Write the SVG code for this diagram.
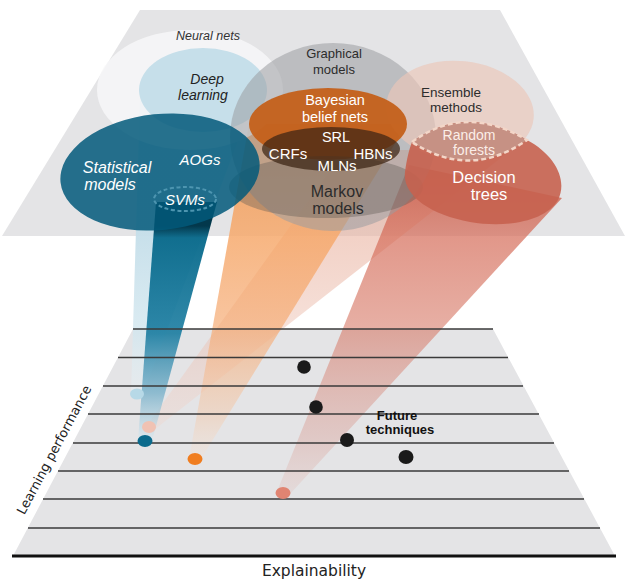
<svg xmlns="http://www.w3.org/2000/svg" width="628" height="582" viewBox="0 0 628 582">
<style>
.t{font-family:"Liberation Sans",Arial,sans-serif;text-anchor:middle}
.it{font-style:italic}
.dk{fill:#2c2c2c}
.wh{fill:#ffffff}
.grid{stroke:#3a3a3a;stroke-width:1.5}
.dot{fill:#1a1a1a}
</style>
<defs>
<linearGradient id="gBlue" gradientUnits="userSpaceOnUse" x1="0" y1="98" x2="0" y2="394">
<stop offset="0" stop-color="#c6dfea" stop-opacity="1"/>
<stop offset="0.48" stop-color="#c6dfea" stop-opacity="0.95"/>
<stop offset="0.8" stop-color="#d3e7ef" stop-opacity="0.8"/>
<stop offset="1" stop-color="#e8f2f6" stop-opacity="0.4"/>
</linearGradient>
<linearGradient id="gTeal" gradientUnits="userSpaceOnUse" x1="0" y1="202" x2="0" y2="441">
<stop offset="0" stop-color="#03384c"/>
<stop offset="0.1" stop-color="#03384c"/>
<stop offset="0.15" stop-color="#0b6b8c" stop-opacity="0.97"/>
<stop offset="0.55" stop-color="#1a7ca0" stop-opacity="0.9"/>
<stop offset="0.8" stop-color="#6aaac6" stop-opacity="0.7"/>
<stop offset="1" stop-color="#d8eaf2" stop-opacity="0.45"/>
</linearGradient>
<linearGradient id="gOrange" gradientUnits="userSpaceOnUse" x1="0" y1="124" x2="0" y2="459">
<stop offset="0" stop-color="#f09a55" stop-opacity="0.9"/>
<stop offset="0.33" stop-color="#f6a96c" stop-opacity="0.85"/>
<stop offset="0.62" stop-color="#f5ad78" stop-opacity="0.7"/>
<stop offset="0.88" stop-color="#f6c6a2" stop-opacity="0.4"/>
<stop offset="1" stop-color="#fbe0cc" stop-opacity="0.2"/>
</linearGradient>
<linearGradient id="gPink" gradientUnits="userSpaceOnUse" x1="0" y1="150" x2="0" y2="430">
<stop offset="0" stop-color="#eab5a3" stop-opacity="0.7"/>
<stop offset="0.3" stop-color="#eab5a3" stop-opacity="0.62"/>
<stop offset="0.65" stop-color="#ebbcac" stop-opacity="0.45"/>
<stop offset="1" stop-color="#f3d3c8" stop-opacity="0.3"/>
</linearGradient>
<linearGradient id="gSalmon" gradientUnits="userSpaceOnUse" x1="0" y1="165" x2="0" y2="494">
<stop offset="0" stop-color="#c8604f" stop-opacity="0.9"/>
<stop offset="0.22" stop-color="#d66f5c" stop-opacity="0.72"/>
<stop offset="0.5" stop-color="#d77a68" stop-opacity="0.6"/>
<stop offset="0.83" stop-color="#d8958a" stop-opacity="0.35"/>
<stop offset="1" stop-color="#e0b0a8" stop-opacity="0.2"/>
</linearGradient>
</defs>

<!-- planes -->
<polygon id="top-plane" points="140,10 500,10 625,236 2,236" fill="#e4e4e6"/>
<polygon id="bottom-plane" points="133,329 493,329 615,556 13,556" fill="#e4e4e6"/>

<!-- connectors (beams) -->
<g id="connectors">
<polygon id="beam-deep" points="140,98 245,122 143,394 131,394" fill="url(#gBlue)"/>
<polygon id="beam-ensemble" points="345,150 511,150 154,430 145,428" fill="url(#gPink)"/>
<polygon id="beam-graphical" points="249,124 407,124 201,459 189,459" fill="url(#gOrange)"/>
<polygon id="beam-decision" points="409,165 562,198 290,494 276,494" fill="url(#gSalmon)"/>
<polygon id="beam-svm" points="156,202 217,202 152,441 138,441" fill="url(#gTeal)"/>
</g>

<!-- grid lines of the lower plane -->
<g id="grid">
<line class="grid" x1="133" y1="329" x2="493" y2="329"/>
<line class="grid" x1="118" y1="357.5" x2="508" y2="357.5"/>
<line class="grid" x1="103" y1="386" x2="523" y2="386"/>
<line class="grid" x1="88" y1="414" x2="539" y2="414"/>
<line class="grid" x1="73" y1="443" x2="554" y2="443"/>
<line class="grid" x1="58" y1="471" x2="569" y2="471"/>
<line class="grid" x1="43" y1="499" x2="584" y2="499"/>
<line class="grid" x1="28" y1="528" x2="600" y2="528"/>
<line x1="12" y1="556" x2="616" y2="556" stroke="#111" stroke-width="3"/>
</g>

<g id="neural-nets">
<ellipse cx="190" cy="90" rx="93" ry="60" fill="#f7f7f8" fill-opacity="0.85"/>
<text class="t it" x="208" y="40" font-size="12.5" fill="#333">Neural nets</text>
</g>

<g id="deep-learning">
<ellipse cx="203" cy="90" rx="64" ry="42" fill="#c6dfea"/>
<text class="t it" x="207" y="84" font-size="14" fill="#222">Deep</text>
<text class="t it" x="203" y="100" font-size="14" fill="#222">learning</text>
<ellipse cx="137" cy="394" rx="7" ry="5.5" fill="#b7d9e7"/>
</g>

<g id="graphical-models">
<ellipse cx="333" cy="137" rx="103" ry="94" fill="#9a9ca0" fill-opacity="0.55"/>
<text class="t dk" x="334" y="58" font-size="13">Graphical</text>
<text class="t dk" x="334" y="74" font-size="13">models</text>
<ellipse cx="195" cy="459" rx="7.5" ry="6" fill="#f07d20"/>
</g>

<g id="ensemble-methods">
<ellipse cx="460" cy="111" rx="74" ry="50" transform="rotate(6 460 111)" fill="#ebc6b9" fill-opacity="0.65"/>
<text class="t dk" x="451" y="97" font-size="13.5">Ensemble</text>
<text class="t dk" x="456" y="112" font-size="13.5">methods</text>
<ellipse cx="149" cy="427" rx="7" ry="6" fill="#f0c2b3"/>
</g>

<g id="bayesian-belief-nets">
<ellipse cx="328" cy="124" rx="79" ry="36" fill="#c4601a" fill-opacity="0.95"/>
<text class="t wh" x="335" y="105" font-size="14.5">Bayesian</text>
<text class="t wh" x="335" y="122" font-size="14.5">belief nets</text>
</g>

<g id="markov-models">
<ellipse cx="326" cy="187" rx="97" ry="31" fill="#5e5a55" fill-opacity="0.38"/>
<text class="t dk" x="337" y="197" font-size="16">Markov</text>
<text class="t dk" x="338" y="214" font-size="16">models</text>
</g>

<g id="srl">
<ellipse cx="331" cy="149" rx="69" ry="22" fill="#3c2414" fill-opacity="0.72"/>
<text class="t wh" x="336" y="142" font-size="14.5">SRL</text>
<text class="t wh" x="288" y="158.5" font-size="15">CRFs</text>
<text class="t wh" x="373" y="158.5" font-size="15">HBNs</text>
<text class="t wh" x="337" y="171" font-size="15">MLNs</text>
</g>

<g id="statistical-models">
<ellipse cx="160" cy="172" rx="100" ry="58" transform="rotate(-6 160 172)" fill="#02597a" fill-opacity="0.85"/>
<text class="t it wh" x="117" y="173" font-size="16">Statistical</text>
<text class="t it wh" x="110" y="190" font-size="16">models</text>
<text class="t it wh" x="200" y="165" font-size="15">AOGs</text>
</g>

<g id="svms">
<ellipse cx="185" cy="199" rx="31" ry="12" fill="none" stroke="#4d95b0" stroke-width="2" stroke-dasharray="4 2.5"/>
<text class="t it wh" x="185" y="205" font-size="15">SVMs</text>
<ellipse cx="145" cy="441" rx="7.5" ry="6" fill="#0b6a8c"/>
</g>

<g id="decision-trees">
<path d="M412,142 Q465,103 527,140 C555,155 568,180 558,200 C545,222 505,228 470,222 C430,215 402,195 405,172 C407,158 409,150 412,142 Z" fill="#c6624f" fill-opacity="0.9"/>
<text class="t wh" x="484" y="183" font-size="16.5">Decision</text>
<text class="t wh" x="489" y="200" font-size="16.5">trees</text>
<ellipse cx="283" cy="493" rx="7.5" ry="6" fill="#e08472"/>
</g>

<g id="random-forests">
<path d="M412,142 Q465,103 527,140 Q470,180 412,142 Z" fill="#c69184" stroke="#f3d6c8" stroke-width="2.5" stroke-dasharray="5 3"/>
<text class="t" x="469" y="139.5" font-size="14" fill="#fbeee8">Random</text>
<text class="t" x="474" y="155" font-size="14" fill="#fbeee8">forests</text>
</g>

<g id="future-techniques">
<circle class="dot" cx="304" cy="367" r="6.8"/>
<circle class="dot" cx="316" cy="407" r="6.8"/>
<circle class="dot" cx="347" cy="440" r="7"/>
<ellipse class="dot" cx="406" cy="457" rx="7.5" ry="7"/>
<text class="t" x="397" y="420" font-size="13" font-weight="bold" fill="#111">Future</text>
<text class="t" x="400" y="434" font-size="13" font-weight="bold" fill="#111">techniques</text>
</g>

<g id="axes">
<text x="314" y="576" font-family="DejaVu Sans, sans-serif" font-size="15.5" fill="#222" text-anchor="middle">Explainability</text>
<text transform="translate(58 452) rotate(-62)" font-family="DejaVu Sans, sans-serif" font-size="13" fill="#222" text-anchor="middle">Learning performance</text>
</g>
</svg>
